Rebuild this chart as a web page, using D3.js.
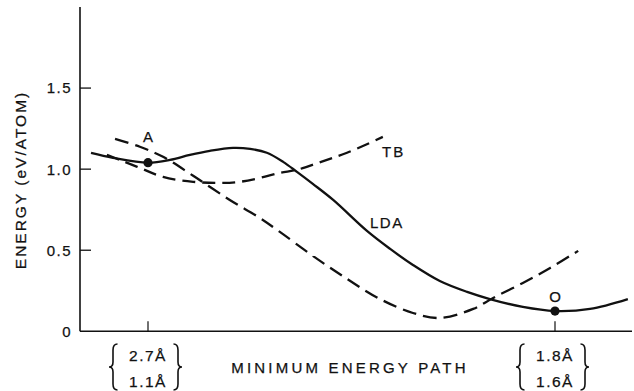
<!DOCTYPE html>
<html>
<head>
<meta charset="utf-8">
<script src="https://cdn.jsdelivr.net/npm/d3@7"></script>
<style>
  html, body { margin: 0; padding: 0; background: #fff; }
  svg { display: block; font-family: "Liberation Sans", Arial, sans-serif; }
  .lbl { fill: #111; stroke: #111; stroke-width: 0.25; }
</style>
</head>
<body>
<div id="chart"></div>
<script>
// path coordinate: 0 = point A, 1 = point O
const ldaPath = [-0.14, -0.086, 0, 0.054, 0.103, 0.152, 0.209, 0.251, 0.292, 0.332, 0.366, 0.405, 0.455, 0.538, 0.595, 0.651, 0.717, 0.784, 0.84, 0.921, 1.0, 1.086, 1.179];
const ldaEnergy = [1.10, 1.07, 1.04, 1.057, 1.088, 1.113, 1.131, 1.125, 1.101, 1.045, 0.983, 0.909, 0.81, 0.619, 0.508, 0.409, 0.31, 0.243, 0.199, 0.15, 0.125, 0.138, 0.199];

const tbPath = [-0.101, -0.069, -0.02, 0.037, 0.111, 0.184, 0.226, 0.275, 0.324, 0.366, 0.418, 0.489, 0.577];
const tbEnergy = [1.088, 1.057, 1.008, 0.952, 0.922, 0.915, 0.922, 0.946, 0.977, 0.996, 1.039, 1.101, 1.199];

const tb2Path = [-0.081, -0.02, 0.037, 0.111, 0.201, 0.275, 0.324, 0.405, 0.489, 0.57, 0.651, 0.717, 0.799, 0.848, 0.921, 0.988, 1.057];
const tb2Energy = [1.187, 1.138, 1.076, 0.959, 0.81, 0.699, 0.613, 0.465, 0.323, 0.199, 0.113, 0.082, 0.138, 0.206, 0.298, 0.391, 0.496];

const points = [
  { name: "A", s: 0, e: 1.04 },
  { name: "O", s: 1, e: 0.125 }
];
const pointLabelGap = [21, 9];

const yTicks = [0, 0.5, 1.0, 1.5];
const yTickLabels = ["0", "0.5", "1.0", "1.5"];
const xTicks = [0, 1];
const xTickLines = [["2.7Å", "1.1Å"], ["1.8Å", "1.6Å"]];

const width = 634, height = 391;
const x0 = 80, x1 = 632;   // axis extent
const yBase = 331.3, yTop = 7;

const x = d3.scaleLinear().domain([0, 1]).range([148, 555]);
const y = d3.scaleLinear().domain([0, 2]).range([yBase, yTop]);

const svg = d3.select("#chart").append("svg")
  .attr("width", width).attr("height", height);

const ink = "#111";

// axes
svg.append("line").attr("x1", x0).attr("x2", x0).attr("y1", yTop).attr("y2", yBase)
  .attr("stroke", ink).attr("stroke-width", 1.6);
svg.append("line").attr("x1", x0).attr("x2", x1).attr("y1", yBase).attr("y2", yBase)
  .attr("stroke", ink).attr("stroke-width", 1.6);

// y ticks (inward) and labels
svg.selectAll(".ytick").data(yTicks.filter(d => d > 0)).join("line")
  .attr("x1", x0).attr("x2", x0 + 11)
  .attr("y1", d => y(d)).attr("y2", d => y(d))
  .attr("stroke", ink).attr("stroke-width", 1.3);

svg.selectAll(".ylab").data(yTicks).join("text")
  .attr("class", "lbl")
  .attr("x", 72).attr("y", d => y(d))
  .attr("dy", "0.36em")
  .attr("text-anchor", "end")
  .attr("font-size", 15)
  .attr("letter-spacing", 1.5)
  .text((d, i) => yTickLabels[i]);

svg.append("text").attr("class", "lbl")
  .attr("transform", `translate(26,180) rotate(-90)`)
  .attr("text-anchor", "middle")
  .attr("font-size", 15.5)
  .attr("letter-spacing", 2)
  .text("ENERGY (eV/ATOM)");

// x ticks (upward)
svg.selectAll(".xtick").data(xTicks).join("line")
  .attr("x1", d => x(d)).attr("x2", d => x(d))
  .attr("y1", yBase - 10).attr("y2", yBase)
  .attr("stroke", ink).attr("stroke-width", 1.2);

// braced distance labels; dir -1 = "{", +1 = "}"
const braceTop = 344, braceBot = 390;
function brace(g, xs, dir) {
  const ym = (braceTop + braceBot) / 2;
  const xe = xs - dir * 4.5, xc = xs + dir * 4;
  g.append("path")
    .attr("d", `M${xe},${braceTop} Q${xs},${braceTop} ${xs},${braceTop + 6}
      L${xs},${ym - 5} Q${xs},${ym} ${xc},${ym}
      Q${xs},${ym} ${xs},${ym + 5}
      L${xs},${braceBot - 6} Q${xs},${braceBot} ${xe},${braceBot}`)
    .attr("fill", "none").attr("stroke", ink).attr("stroke-width", 1.6);
}
xTicks.forEach((t, i) => {
  const g = svg.append("g");
  const cx = x(t);
  brace(g, cx - 35, -1);
  brace(g, cx + 30, 1);
  xTickLines[i].forEach((s, j) => {
    g.append("text").attr("class", "lbl")
      .attr("x", cx).attr("y", 361 + j * 26)
      .attr("text-anchor", "middle")
      .attr("font-size", 15.5)
      .attr("letter-spacing", 1.5)
      .text(s);
  });
});

svg.append("text").attr("class", "lbl")
  .attr("x", 350).attr("y", 373)
  .attr("text-anchor", "middle")
  .attr("font-size", 15)
  .attr("letter-spacing", 3.2)
  .text("MINIMUM ENERGY PATH");

// curves
const line = d3.line().x(d => x(d[0])).y(d => y(d[1])).curve(d3.curveCatmullRom.alpha(0.5));
const zip = (a, b) => a.map((v, i) => [v, b[i]]);

svg.append("path").attr("d", line(zip(tbPath, tbEnergy)))
  .attr("fill", "none").attr("stroke", ink).attr("stroke-width", 2.3)
  .attr("stroke-dasharray", "13,7");
svg.append("path").attr("d", line(zip(tb2Path, tb2Energy)))
  .attr("fill", "none").attr("stroke", ink).attr("stroke-width", 2.3)
  .attr("stroke-dasharray", "14,7");
svg.append("path").attr("d", line(zip(ldaPath, ldaEnergy)))
  .attr("fill", "none").attr("stroke", ink).attr("stroke-width", 2.3);

// marked points
svg.selectAll(".pt").data(points).join("circle")
  .attr("cx", d => x(d.s)).attr("cy", d => y(d.e)).attr("r", 4.6)
  .attr("fill", ink);
svg.selectAll(".ptlab").data(points).join("text")
  .attr("class", "lbl")
  .attr("x", d => x(d.s)).attr("y", (d, i) => y(d.e) - pointLabelGap[i])
  .attr("text-anchor", "middle")
  .attr("font-size", 15)
  .text(d => d.name);

// curve labels
svg.append("text").attr("class", "lbl")
  .attr("x", 382).attr("y", 157)
  .attr("font-size", 15).attr("letter-spacing", 2)
  .text("TB");
svg.append("text").attr("class", "lbl")
  .attr("x", 370).attr("y", 228)
  .attr("font-size", 15).attr("letter-spacing", 1.5)
  .text("LDA");
</script>
</body>
</html>
